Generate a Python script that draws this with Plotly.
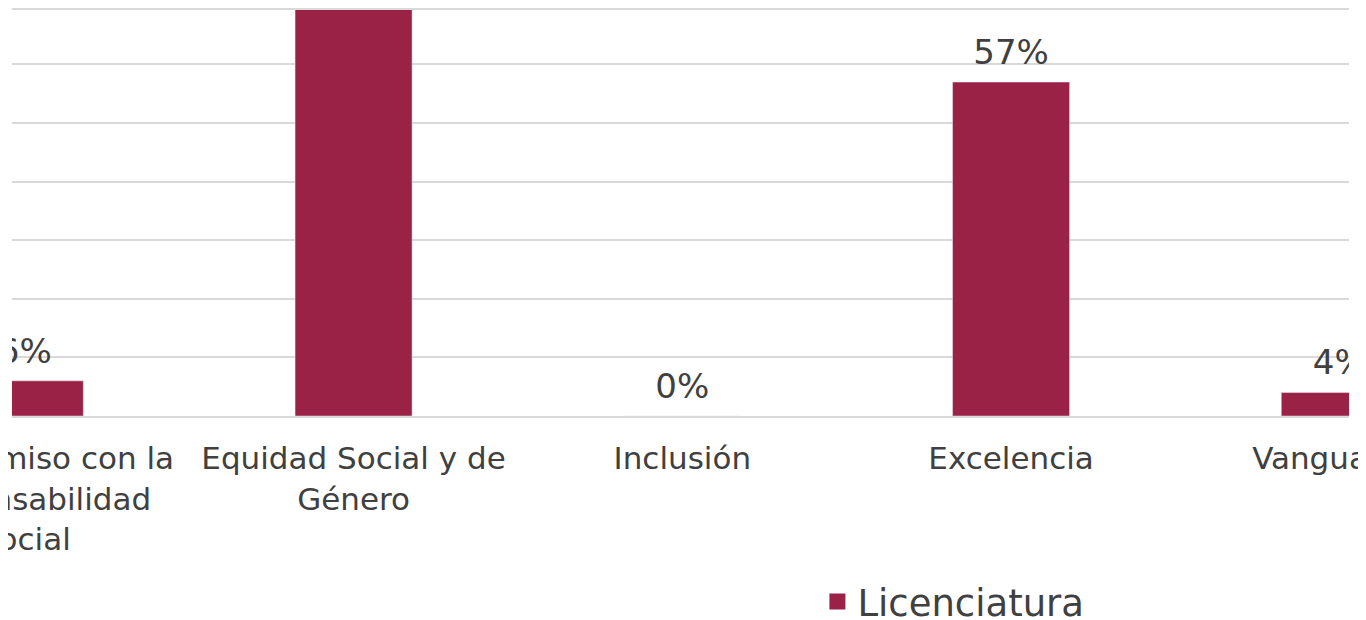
import plotly.graph_objects as go

categorias = ["Compromiso con la<br>Responsabilidad<br>Social", "Equidad Social y de<br>Género",
              "Inclusión", "Excelencia", "Vanguardia"]
licenciatura = [6, 80, 0, 57, 4]
etiquetas = ["6%", "80%", "0%", "57%", "4%"]

guinda = "#9B2247"
gris = "#404040"

fig = go.Figure()
fig.add_trace(go.Bar(x=categorias, y=licenciatura, name="Licenciatura",
                     marker=dict(color=guinda), width=0.356, cliponaxis=True,
                     hoverinfo="skip", showlegend=False))
# etiquetas de valor (recortadas por el area del grafico, como en el original)
fig.add_trace(go.Scatter(x=categorias, y=licenciatura, mode="text+markers",
                         text=etiquetas, textposition="top center",
                         marker=dict(size=14, opacity=0), cliponaxis=True,
                         textfont=dict(size=34, color=gris, family="DejaVu Sans"),
                         showlegend=False, hoverinfo="skip"))
# entrada de leyenda con cuadro grande
fig.add_trace(go.Scatter(x=[None], y=[None], mode="markers", name="Licenciatura",
                         marker=dict(symbol="square", size=20, color=guinda)))

fig.update_layout(
    width=1366, height=620,
    margin=dict(l=4, r=25, t=2, b=212, autoexpand=False),
    plot_bgcolor="white", paper_bgcolor="white",
    font=dict(family="DejaVu Sans", color=gris),
    xaxis=dict(type="category", range=[-0.039, 4.028], showgrid=False,
               showline=True, mirror=True, linecolor="#D9D9D9", linewidth=2,
               tickfont=dict(size=31, color=gris), ticks="", tickangle=0,
               automargin=False, ticklabelstandoff=14),
    yaxis=dict(range=[0, 69.3], dtick=10, showticklabels=False, automargin=False,
               gridcolor="#D9D9D9", gridwidth=2, zeroline=False),
    legend=dict(orientation="h", x=0.6024, xanchor="left", y=-0.458, yanchor="middle",
                font=dict(size=37, color=gris), itemsizing="trace"),
)

fig.write_html("out.html")
